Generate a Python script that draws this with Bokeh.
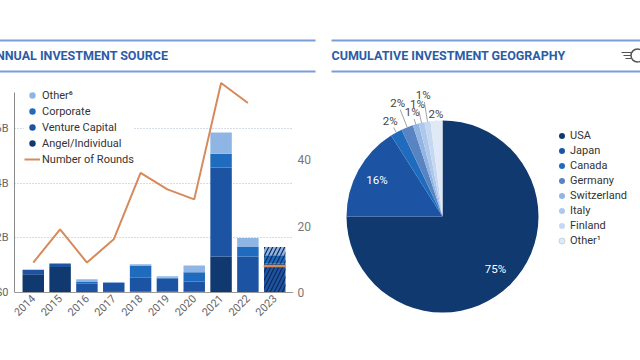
import math
from bokeh.plotting import figure
from bokeh.models import (Range1d, FactorRange, LinearAxis, FixedTicker, PrintfTickFormatter,
                          Legend, LegendItem, ColumnDataSource)
from bokeh.layouts import column, row
from bokeh.core.properties import value, field
from bokeh.embed import file_html
from bokeh.resources import INLINE

# ---------------- data: annual investment source ($B) ----------------
years = ["2014", "2015", "2016", "2017", "2018", "2019", "2020", "2021", "2022", "2023"]
angel = [0.67, 0.93, 0.02, 0.05, 0.03, 0.04, 0.03, 1.32, 0.02, 0.02]
venture = [0.16, 0.13, 0.30, 0.30, 0.51, 0.47, 0.37, 3.25, 1.30, 1.04]
corporate = [0.00, 0.00, 0.06, 0.02, 0.45, 0.03, 0.34, 0.50, 0.34, 0.30]
other = [0.00, 0.00, 0.10, 0.00, 0.04, 0.05, 0.25, 0.78, 0.33, 0.30]
round_years = ["2014", "2015", "2016", "2017", "2018", "2019", "2020", "2021", "2022"]
rounds = [9, 19, 9, 16, 36, 31, 28, 63, 57]
partial_year = ["2023"]
partial_rounds = [8]
usd_ticks = [0, 2, 4, 6]
round_ticks = [0, 20, 40]
source_labels = ["Other\u2076", "Corporate", "Venture Capital", "Angel/Individual", "Number of Rounds"]

# ---------------- data: cumulative investment geography (%) ----------------
countries = ["USA", "Japan", "Canada", "Germany", "Switzerland", "Italy", "Finland", "Other\u00b9"]
shares = [75, 16, 2, 2, 1, 1, 1, 2]

# ---------------- styles / layout ----------------
FONT = "Roboto"
C_ANGEL, C_VC, C_CORP, C_OTHER = "#10396f", "#1c54a3", "#1f6bbd", "#8fb5e5"
C_ROUNDS = "#d68a5c"
GEO_COLORS = ["#10396f", "#1c54a3", "#1f6cbf", "#5884c1", "#92b5e4", "#aec8ec", "#c6d8f1", "#e0e9f6"]
SHIFT = 14            # the chart bleeds off the left edge like the reference
X0 = -SHIFT           # window x of the layout's left edge
HDR_H = 78
CH_H = 282
BOT = 40              # bottom border of both chart panels
FRAME_BOTTOM = HDR_H + CH_H - BOT   # window y of frame bottom (320)
BASE = 292            # window y of the zero line
PX_PER_B = 27.35
PX_PER_ROUND = 3.325

# ---------------- header ----------------
hdr = figure(width=640 - X0, height=HDR_H, x_range=Range1d(X0, 640), y_range=Range1d(HDR_H, 0),
             output_backend="svg", toolbar_location=None, min_border=0,
             x_axis_location=None, y_axis_location=None)
hdr.grid.visible = False
hdr.outline_line_color = None
hdr.segment(x0=[X0, X0, 331, 331], y0=[40, 71, 40, 71], x1=[315, 315, 640, 640], y1=[40, 71, 40, 71],
            line_color="#7c9ed6", line_width=2)
hdr.text(x=[-13, 331], y=[55, 55], text=["ANNUAL INVESTMENT SOURCE", "CUMULATIVE INVESTMENT GEOGRAPHY"],
         text_font=value(FONT), text_font_style="bold", text_font_size="12.5px",
         text_color="#2b5ca8", text_baseline="middle")
# small winged emblem at the right end of the header
hdr.segment(x0=[621, 623, 625], y0=[52, 55, 58], x1=[631, 631, 631], y1=[52, 55, 58],
            line_color="#555555", line_width=1.2)
hdr.scatter(x=[637], y=[55], marker="circle", size=13, fill_color="white",
            line_color="#555555", line_width=1.5)

# ---------------- left: stacked bars + rounds line ----------------
src = ColumnDataSource(dict(year=years, angel=angel, venture=venture, corporate=corporate, other=other,
                            hatch=[" "] * (len(years) - 1) + ["/"]))
xr = FactorRange(factors=years, range_padding=0.2, range_padding_units="absolute")
y_lo = -(FRAME_BOTTOM - BASE) / PX_PER_B
y_hi = (BASE - HDR_H) / PX_PER_B
p = figure(x_range=xr, y_range=Range1d(y_lo, y_hi), width=324 - X0, height=CH_H,
           output_backend="svg", toolbar_location=None,
           min_border_left=13 - X0, min_border_right=31, min_border_top=0, min_border_bottom=BOT)
p.outline_line_color = None
p.xgrid.visible = False
p.ygrid.ticker = FixedTicker(ticks=usd_ticks[1:])
p.ygrid.grid_line_color = "#a9b9cf"
p.ygrid.grid_line_dash = "1 2"
p.ygrid.grid_line_width = 1

p.yaxis.ticker = FixedTicker(ticks=usd_ticks)
p.yaxis.bounds = (0, (BASE - 92) / PX_PER_B)
p.yaxis.formatter = PrintfTickFormatter(format="$%dB")
p.yaxis.major_label_overrides = {0: "$0"}
p.yaxis.axis_line_color = "#8a8a8a"
p.yaxis.major_tick_line_color = None
p.yaxis.major_tick_out = 0
p.yaxis.minor_tick_line_color = None
p.yaxis.major_label_standoff = 6
p.yaxis.major_label_text_font = FONT
p.yaxis.major_label_text_font_size = "11px"
p.yaxis.major_label_text_color = "#666666"

p.xaxis.fixed_location = 0
p.xaxis.axis_line_color = "#9a9a9a"
p.xaxis.major_tick_line_color = None
p.xaxis.major_tick_out = 0
p.xaxis.major_label_orientation = math.pi / 4
p.xaxis.major_label_standoff = 4
p.xaxis.major_label_text_font = FONT
p.xaxis.major_label_text_font_size = "11px"
p.xaxis.major_label_text_color = "#666666"

p.extra_y_ranges = {"rounds": Range1d(-(FRAME_BOTTOM - BASE) / PX_PER_ROUND, (BASE - HDR_H) / PX_PER_ROUND)}
rax = LinearAxis(y_range_name="rounds", ticker=FixedTicker(ticks=round_ticks))
rax.axis_line_color = None
rax.major_tick_line_color = None
rax.major_tick_out = 0
rax.minor_tick_line_color = None
rax.major_label_standoff = 4
rax.major_label_text_font = FONT
rax.major_label_text_font_size = "12px"
rax.major_label_text_color = "#777777"
p.add_layout(rax, "right")

p.vbar_stack(["angel", "venture", "corporate", "other"], x="year", width=0.8, source=src,
             fill_color=[C_ANGEL, C_VC, C_CORP, C_OTHER], line_color=None,
             hatch_pattern=field("hatch"), hatch_color="#0c2852", hatch_scale=8, hatch_weight=1.2)
r_line = p.line(x=round_years, y=rounds, y_range_name="rounds", line_color=C_ROUNDS, line_width=2)
r_dash = p.scatter(x=partial_year, y=partial_rounds, y_range_name="rounds", marker="dash", size=22,
                   line_color=C_ROUNDS, line_width=2.5)

# legend keys (single points placed below the visible frame so only the legend shows them)
proxies = [p.scatter(x=["2014"], y=[-50], marker="circle", fill_color=c, line_color=None)
           for c in [C_OTHER, C_CORP, C_VC, C_ANGEL]]
items = [LegendItem(label=lab, renderers=[r]) for lab, r in zip(source_labels[:4], proxies)]
items.append(LegendItem(label=source_labels[4], renderers=[r_line]))
leg = Legend(items=items, location=(10, FRAME_BOTTOM - 167), padding=0, margin=0, spacing=0,
             glyph_width=16, glyph_height=16, label_height=16, label_standoff=2,
             label_text_font=FONT, label_text_font_size="11px", label_text_color="#333333",
             border_line_color=None, background_fill_color="white", background_fill_alpha=1)
p.add_layout(leg)

# ---------------- right: pie ----------------
cx, cy, R = 442, FRAME_BOTTOM - 216, 96
total = sum(shares)
starts, ends, mids = [], [], []
cum = 0
for s in shares:
    a0 = math.pi / 2 - 2 * math.pi * cum / total
    cum += s
    a1 = math.pi / 2 - 2 * math.pi * cum / total
    starts.append(a0)
    ends.append(a1)
    mids.append((a0 + a1) / 2)

q = figure(width=316, height=CH_H, x_range=Range1d(324, 640), y_range=Range1d(0, CH_H - BOT),
           output_backend="svg", toolbar_location=None,
           min_border_left=0, min_border_right=0, min_border_top=0, min_border_bottom=BOT,
           x_axis_location=None, y_axis_location=None)
q.grid.visible = False
q.outline_line_color = None
q.wedge(x=cx, y=cy, radius=R, start_angle=starts, end_angle=ends, direction="clock",
        fill_color=GEO_COLORS, line_color=None)

pct = [f"{s}%" for s in shares]
q.text(x=[cx + 0.78 * R * math.cos(m) for m in mids[:2]],
       y=[cy + 0.78 * R * math.sin(m) for m in mids[:2]],
       text=pct[:2], text_font=value(FONT), text_font_size="11.5px", text_color="white",
       text_align="center", text_baseline="middle")
label_r = [1.13, 1.27, 1.13, 1.20, 1.28, 1.07]
sm = mids[2:]
q.segment(x0=[cx + R * math.cos(m) for m in sm], y0=[cy + R * math.sin(m) for m in sm],
          x1=[cx + (f * R - 7) * math.cos(m) for f, m in zip(label_r, sm)],
          y1=[cy + (f * R - 7) * math.sin(m) for f, m in zip(label_r, sm)],
          line_color="#8a8a8a", line_width=0.8)
q.text(x=[cx + f * R * math.cos(m) for f, m in zip(label_r, sm)],
       y=[cy + f * R * math.sin(m) for f, m in zip(label_r, sm)],
       text=pct[2:], text_font=value(FONT), text_font_size="11.5px", text_color="#444444",
       text_align="center", text_baseline="middle")

gprox = [q.scatter(x=[330], y=[-500], marker="circle", fill_color=c,
                   line_color=("#c9d3e0" if i == len(GEO_COLORS) - 1 else None))
         for i, c in enumerate(GEO_COLORS)]
gleg = Legend(items=[LegendItem(label=c, renderers=[r]) for c, r in zip(countries, gprox)],
              location=(230, FRAME_BOTTOM - 248), padding=0, margin=0, spacing=0,
              glyph_width=15, glyph_height=15, label_height=15, label_standoff=1,
              label_text_font=FONT, label_text_font_size="11px", label_text_color="#333333",
              border_line_color=None, background_fill_alpha=0)
q.add_layout(gleg)

layout = column(hdr, row(p, q))
layout.styles = {"margin-left": f"-{SHIFT}px"}

open("out.html", "w").write(file_html(layout, INLINE))
